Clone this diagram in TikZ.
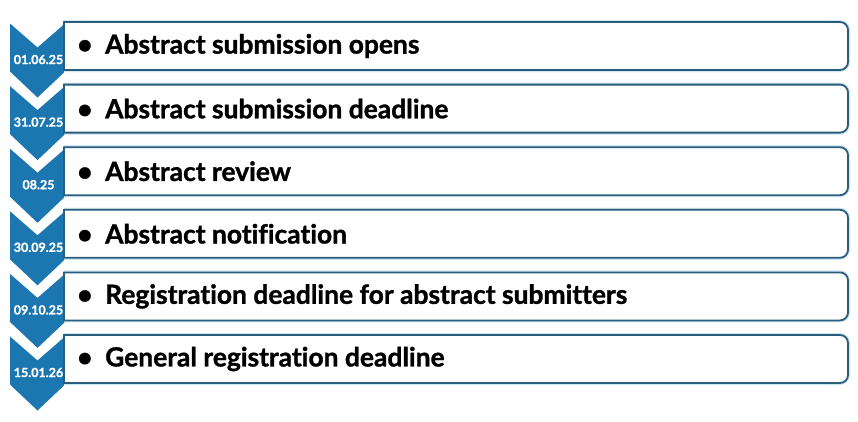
\documentclass[tikz,border=0pt]{standalone}
\usepackage{fontspec}
\setmainfont{Lato}[Ligatures={NoCommon}, BoldFeatures={FakeBold=1.2}]
\definecolor{chev}{HTML}{1C76B0}
\definecolor{boxline}{HTML}{2B5E7C}
\definecolor{glow}{HTML}{CFE6F3}
\tikzset{
  chevshape/.style={fill=chev, draw=none},
  itembox/.style={draw=boxline, line width=1.8pt, fill=white},
  itemtext/.style={anchor=west, inner sep=0pt, font=\fontsize{26.4}{31}\selectfont\bfseries, text=black},
  datetext/.style={inner sep=0pt, font=\fontsize{12.5}{14}\selectfont\bfseries, text=white},
}
\begin{document}
\begin{tikzpicture}[x=1pt,y=-1pt]
\useasboundingbox (0,0) rectangle (858,421);
\fill[white] (0,0) rectangle (858,421);
\foreach \i/\d/\t in {0/01.06.25/Abstract submission opens,
                      1/31.07.25/Abstract submission deadline,
                      2/08.25/Abstract review,
                      3/30.09.25/Abstract notification,
                      4/09.10.25/Registration deadline for abstract submitters,
                      5/15.01.26/General registration deadline}{
  \pgfmathsetmacro{\bt}{22+62.6*\i}
  \pgfmathsetmacro{\ct}{\bt+1.5}
  % chevron
  \fill[chevshape] (10,\ct) -- (37.5,\ct+24) -- (65,\ct) -- (65,\ct+48)
    -- (37.5,\ct+74) -- (10,\ct+48) -- cycle;
  % box with glow
  \draw[glow, line width=4pt]
    (64,\bt) -- (840,\bt) arc[start angle=-90,end angle=0,radius=8] -- (848,\bt+40)
    arc[start angle=0,end angle=90,radius=8] -- (64,\bt+48);
  \draw[itembox]
    (64,\bt) -- (840,\bt) arc[start angle=-90,end angle=0,radius=8] -- (848,\bt+40)
    arc[start angle=0,end angle=90,radius=8] -- (64,\bt+48) -- cycle;
  \node[itemtext] (t\i) at (77,\bt+24) {\makebox[28pt][l]{•}\t};
  \node[datetext] (d\i) at (38.5,\ct+36) {\d};
}
\end{tikzpicture}
\end{document}
